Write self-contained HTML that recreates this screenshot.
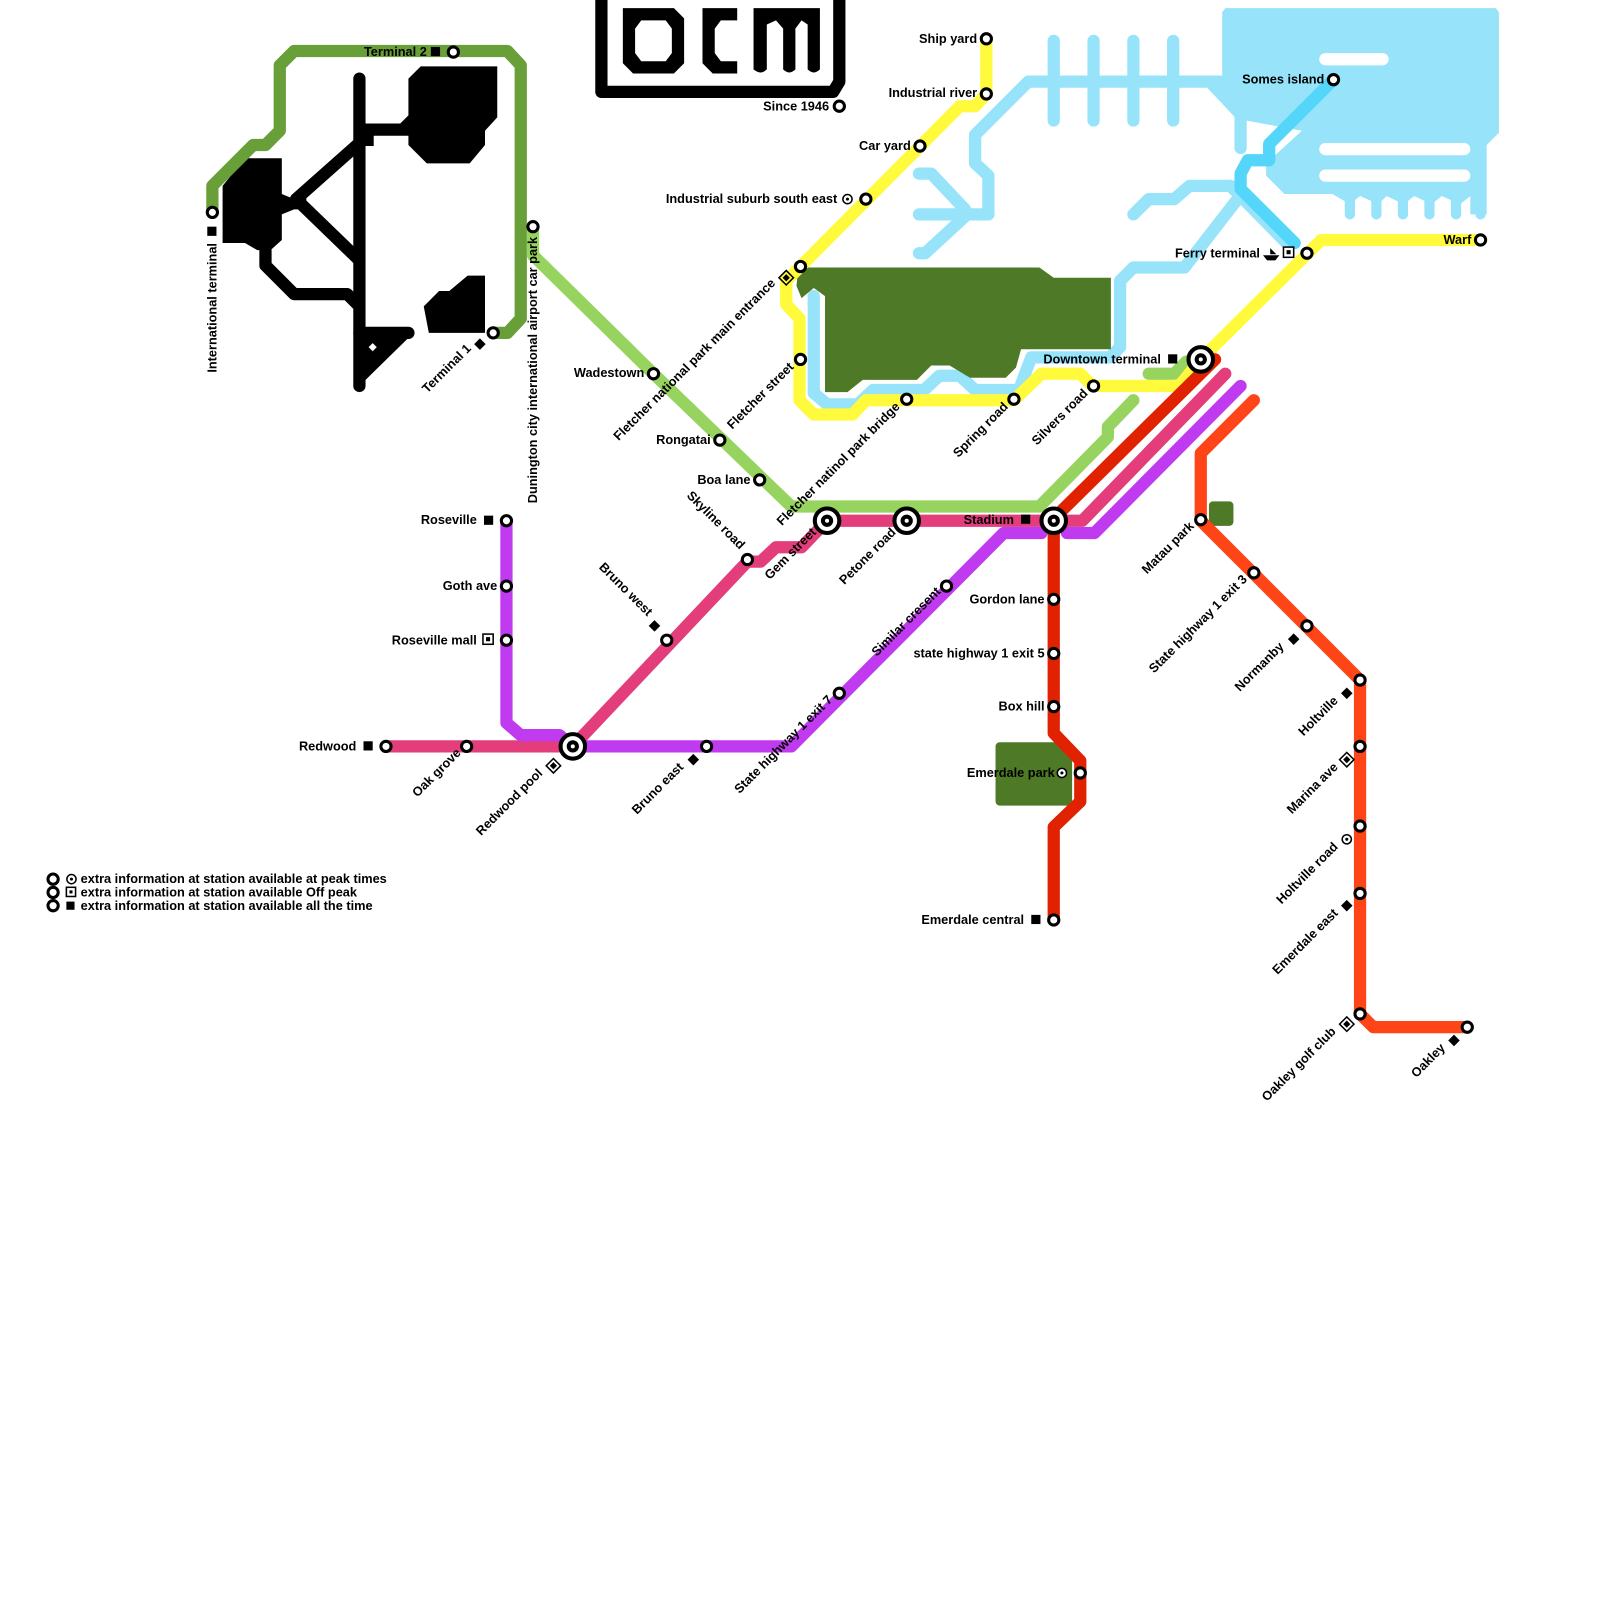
<!DOCTYPE html>
<html><head><meta charset="utf-8"><style>
html,body{margin:0;padding:0;background:#fff}
svg{display:block}
text{font-family:"Liberation Sans",sans-serif;font-weight:bold;font-size:12.5px;fill:#000}
</style></head><body>
<svg width="1600" height="1600" viewBox="0 0 1567 1567" xmlns="http://www.w3.org/2000/svg">
<g fill="none" stroke-linecap="round" stroke-linejoin="round">
<polygon points="1200,8 1465,8 1468,12 1468,130 1456,142 1456,210 1440,210 1440,192 1430,200 1412,192 1402,200 1385,192 1375,200 1358,192 1350,200 1332,192 1322,200 1305,190 1258,190 1240,172 1240,160 1275,128 1220,118 1197,100 1197,12" fill="#96e3fa"/>
<g stroke="#96e3fa" stroke-width="10">
<path d="M1322,190 V210 M1348,190 V210 M1374,190 V210 M1400,190 V210 M1426,190 V210 M1450,190 V210"/>
</g>
<g stroke="#fff" stroke-width="12">
<path d="M1298,58 H1354"/><path d="M1298,146 H1434"/><path d="M1298,172 H1434"/>
</g>
<g stroke="#96e3fa" stroke-width="12">
<path d="M1032,40 V118 M1071,40 V118 M1110,40 V118 M1149,40 V118"/>
<path d="M1200,80 H1007 L955,132 V160 L968,172 V210 H900 M1110,210 L1125,195 H1150 L1165,182 H1205"/>
<path d="M900,170 H912 L945,205 M900,248 H906 L945,212"/>
<path d="M1185,80 L1215,112 V145"/>
<path d="M1205,182 L1262,240 M1212,195 L1160,262 H1110 L1097,275 V340 L1087,350 H1010 L998,382 H955 L940,368 H920 L905,382 H855 L840,396 H810 L797,385 V290"/>
</g>
<path d="M1306,78 L1243,141 V157 H1222 L1215,170 V185 L1268,238" stroke="#53d6f9" stroke-width="12"/>
</g>
<polygon points="782,262 1018,262 1032,272 1088,272 1088,342 1000,342 995,360 985,370 950,370 930,358 912,358 898,372 845,372 830,384 808,384 808,290 797,282 785,292 780,280" fill="#4e7a27"/>
<rect x="975" y="727" width="75" height="62" rx="4" fill="#4e7a27"/>
<rect x="1184" y="491" width="24" height="24" rx="4" fill="#4e7a27"/>
<g fill="#000">
<path d="M400,77 L412,65 H487 V115 L475,128 V142 L460,160 H418 L400,142 V133 H366 V143 H352 V121 H392 L400,113 Z"/>
<polygon points="218,182 240,155 276,155 276,190 288,195 300,190 300,205 288,205 276,210 276,235 265,245 252,245 240,238 218,238"/>
<polygon points="415,300 430,285 440,285 458,270 475,270 475,326 420,326"/>
<polygon points="352,326 405,326 352,378"/>
</g>
<g fill="none" stroke="#000" stroke-width="12" stroke-linecap="round" stroke-linejoin="round">
<path d="M352,77 V378"/>
<path d="M352,140 L290,195 M290,195 L352,255"/>
<path d="M260,245 V260 L288,288 H340 L352,300"/>
<path d="M352,326 H400"/>
</g>
<polygon points="365,336 369,340 365,344 361,340" fill="#fff"/>
<g fill="none" stroke="#000" stroke-width="12" stroke-linejoin="round">
<path d="M589,-10 V90 H816 L822,80 V-10"/>
</g>
<g fill="#000">
<path d="M610,8 H660 L670,18 V62 L660,72 H620 L610,62 Z M628,20 L622,28 V52 L628,60 H652 L658,52 V28 L652,20 Z" fill-rule="evenodd"/>
<path d="M688,8 H722 V20 H706 L700,28 V52 L706,60 H722 V72 H698 L688,62 Z"/>
<path d="M738,8 H803 V68 Q797,74 791,68 V24 L785,20 L779,28 V68 Q773,74 767,68 V28 L760,20 L751,24 V68 Q745,74 738,68 Z"/>
</g>
<g fill="none" stroke-linecap="round" stroke-linejoin="round" stroke-width="12">
<path d="M208,208 V182 L248,142 H260 L274,128 V64 L288,50 H497 L510,64 V312 L497,326 H483" stroke="#689f38"/>
<path d="M522,222 V250 L640,366 L775,496 H1018 L1085,428 V418 L1110,392" stroke="#96d35f"/>
<path d="M1125,366 H1150 L1162,354" stroke="#96d35f"/>
<path d="M966,38 V92 L955,104 H940 L785,260 L770,275 V298 L783,312 V392 L797,406 H835 L848,392 H993 L1020,366 H1058 L1070,378 H1155 L1176,352 L1294,235 H1450" stroke="#fffa3c"/>
<path d="M378,731 H561 L732,550 H745 L760,536 H785 L810,510 H1060 L1200,366" stroke="#e33d7b"/>
<path d="M496,510 V708 L510,720 H548 L561,731 H775 L983,522 H1020 M1045,522 H1072 L1215,378" stroke="#c03bef"/>
<path d="M1032,510 V718 L1058,745 V785 L1032,810 V900 M1040,500 L1190,352" stroke="#e02200"/>
<path d="M1228,392 L1176,444 V510 L1332,666 V993 L1345,1006 H1437" stroke="#ff4518"/>
</g>
<g fill="#fff" stroke="#000" stroke-width="3">
<circle cx="208" cy="208" r="5"/><circle cx="444" cy="51" r="5"/><circle cx="483" cy="326" r="5"/>
<circle cx="522" cy="222" r="5"/><circle cx="640" cy="366" r="5"/><circle cx="705" cy="431" r="5"/>
<circle cx="744" cy="470" r="5"/><circle cx="822" cy="104" r="5"/><circle cx="966" cy="38" r="5"/>
<circle cx="966" cy="92" r="5"/><circle cx="901" cy="143" r="5"/><circle cx="848" cy="195" r="5"/>
<circle cx="784" cy="261" r="5"/><circle cx="784" cy="352" r="5"/><circle cx="888" cy="391" r="5"/>
<circle cx="993" cy="391" r="5"/><circle cx="1071" cy="378" r="5"/><circle cx="1306" cy="78" r="5"/>
<circle cx="1280" cy="248" r="5"/><circle cx="1450" cy="235" r="5"/><circle cx="496" cy="510" r="5"/>
<circle cx="496" cy="574" r="5"/><circle cx="496" cy="627" r="5"/><circle cx="378" cy="731" r="5"/>
<circle cx="457" cy="731" r="5"/><circle cx="692" cy="731" r="5"/><circle cx="653" cy="627" r="5"/>
<circle cx="732" cy="548" r="5"/><circle cx="927" cy="574" r="5"/><circle cx="822" cy="679" r="5"/>
<circle cx="1032" cy="587" r="5"/><circle cx="1032" cy="640" r="5"/><circle cx="1032" cy="692" r="5"/>
<circle cx="1058" cy="757" r="5"/><circle cx="1032" cy="901" r="5"/><circle cx="1176" cy="509" r="5"/>
<circle cx="1228" cy="561" r="5"/><circle cx="1280" cy="613" r="5"/><circle cx="1332" cy="666" r="5"/>
<circle cx="1332" cy="731" r="5"/><circle cx="1332" cy="809" r="5"/><circle cx="1332" cy="875" r="5"/>
<circle cx="1332" cy="993" r="5"/><circle cx="1437" cy="1006" r="5"/>
<circle cx="52" cy="861" r="5"/><circle cx="52" cy="874" r="5"/><circle cx="52" cy="887" r="5"/>
</g>
<g fill="#fff" stroke="#000" stroke-width="4">
<circle cx="810" cy="510" r="12"/><circle cx="888" cy="510" r="12"/><circle cx="1032" cy="510" r="12"/>
<circle cx="1176" cy="352" r="12"/><circle cx="561" cy="731" r="12"/>
<circle cx="810" cy="510" r="4"/><circle cx="888" cy="510" r="4"/><circle cx="1032" cy="510" r="4"/>
<circle cx="1176" cy="352" r="4"/><circle cx="561" cy="731" r="4"/>
</g>
<g fill="#000">
<rect x="422" y="46" width="9" height="9"/><rect x="203" y="222" width="9" height="9"/>
<rect x="474" y="505" width="9" height="9"/><rect x="356" y="726" width="9" height="9"/>
<rect x="1000" y="504" width="9" height="9"/><rect x="1144" y="347" width="9" height="9"/>
<rect x="1010" y="896" width="9" height="9"/><rect x="65" y="883" width="8" height="8"/>
<rect x="466" y="333" width="8" height="8" transform="rotate(45 470 337)"/>
<rect x="637" y="609" width="8" height="8" transform="rotate(45 641 613)"/>
<rect x="675" y="740" width="8" height="8" transform="rotate(45 679 744)"/>
<rect x="1263" y="622" width="8" height="8" transform="rotate(45 1267 626)"/>
<rect x="1315" y="675" width="8" height="8" transform="rotate(45 1319 679)"/>
<rect x="1315" y="883" width="8" height="8" transform="rotate(45 1319 887)"/>
<rect x="1420" y="1015" width="8" height="8" transform="rotate(45 1424 1019)"/>
</g>
<g fill="#fff" stroke="#000" stroke-width="1.5">
<rect x="473" y="621" width="10" height="10"/><rect x="1257" y="242" width="10" height="10"/>
<rect x="65" y="869" width="9" height="9"/>
<rect x="537" y="745" width="10" height="10" transform="rotate(45 542 750)"/>
<rect x="765" y="267" width="10" height="10" transform="rotate(45 770 272)" fill="#fffa3c"/>
<rect x="1314" y="739" width="10" height="10" transform="rotate(45 1319 744)"/>
<rect x="1314" y="998" width="10" height="10" transform="rotate(45 1319 1003)"/>
<circle cx="830" cy="195" r="4.5"/><circle cx="1040" cy="757" r="4.5"/><circle cx="1319" cy="822" r="4.5"/><circle cx="70" cy="861" r="4.5"/>
</g>
<g fill="#000"><rect x="476" y="624" width="4" height="4"/><rect x="1260" y="245" width="4" height="4"/><rect x="68" y="872" width="3" height="3"/>
<rect x="539.5" y="747.5" width="5" height="5" transform="rotate(45 542 750)"/>
<rect x="767.5" y="269.5" width="5" height="5" transform="rotate(45 770 272)"/>
<rect x="1316.5" y="741.5" width="5" height="5" transform="rotate(45 1319 744)"/>
<rect x="1316.5" y="1000.5" width="5" height="5" transform="rotate(45 1319 1003)"/>
<circle cx="830" cy="195" r="1.5"/><circle cx="1040" cy="757" r="1.5"/><circle cx="1319" cy="822" r="1.5"/><circle cx="70" cy="861" r="1.5"/>
<path d="M1237,250 H1253 L1249,255 H1241 Z M1244,243 L1250,249 H1244 Z"/></g>
<text x="418" y="55" text-anchor="end">Terminal 2</text>
<text x="812" y="108" text-anchor="end">Since 1946</text>
<text x="957" y="42" text-anchor="end">Ship yard</text>
<text x="957" y="95" text-anchor="end">Industrial river</text>
<text x="892" y="147" text-anchor="end">Car yard</text>
<text x="820" y="199" text-anchor="end">Industrial suburb south east</text>
<text x="1297" y="82" text-anchor="end">Somes island</text>
<text x="1234" y="252" text-anchor="end">Ferry terminal</text>
<text x="1441" y="239" text-anchor="end">Warf</text>
<text x="1137" y="356" text-anchor="end">Downtown terminal</text>
<text x="631" y="369" text-anchor="end">Wadestown</text>
<text x="696" y="435" text-anchor="end">Rongatai</text>
<text x="735" y="474" text-anchor="end">Boa lane</text>
<text x="993" y="513" text-anchor="end">Stadium</text>
<text x="467" y="513" text-anchor="end">Roseville</text>
<text x="487" y="578" text-anchor="end">Goth ave</text>
<text x="467" y="631" text-anchor="end">Roseville mall</text>
<text x="349" y="735" text-anchor="end">Redwood</text>
<text x="1023" y="591" text-anchor="end">Gordon lane</text>
<text x="1023" y="644" text-anchor="end">state highway 1 exit 5</text>
<text x="1023" y="696" text-anchor="end">Box hill</text>
<text x="1033" y="761" text-anchor="end">Emerdale park</text>
<text x="1003" y="905" text-anchor="end">Emerdale central</text>
<text x="79" y="865">extra information at station available at peak times</text>
<text x="79" y="878">extra information at station available Off peak</text>
<text x="79" y="891">extra information at station available all the time</text>
<text transform="translate(212,238) rotate(-90)" text-anchor="end">International terminal</text>
<text transform="translate(526,232) rotate(-90)" text-anchor="end">Dunington city international airport car park</text>
<text transform="translate(462,342) rotate(-45)" text-anchor="end">Terminal 1</text>
<text transform="translate(760,278) rotate(-45)" text-anchor="end">Fletcher national park main entrance</text>
<text transform="translate(778,360) rotate(-45)" text-anchor="end">Fletcher street</text>
<text transform="translate(882,399) rotate(-45)" text-anchor="end">Fletcher natinol park bridge</text>
<text transform="translate(988,399) rotate(-45)" text-anchor="end">Spring road</text>
<text transform="translate(1066,386) rotate(-45)" text-anchor="end">Silvers road</text>
<text transform="translate(672,486) rotate(45)">Skyline road</text>
<text transform="translate(586,556) rotate(45)">Bruno west</text>
<text transform="translate(800,522) rotate(-45)" text-anchor="end">Gem street</text>
<text transform="translate(878,522) rotate(-45)" text-anchor="end">Petone road</text>
<text transform="translate(922,580) rotate(-45)" text-anchor="end">Similar cresent</text>
<text transform="translate(816,686) rotate(-45)" text-anchor="end">State highway 1 exit 7</text>
<text transform="translate(452,738) rotate(-45)" text-anchor="end">Oak grove</text>
<text transform="translate(532,758) rotate(-45)" text-anchor="end">Redwood pool</text>
<text transform="translate(670,752) rotate(-45)" text-anchor="end">Bruno east</text>
<text transform="translate(1170,516) rotate(-45)" text-anchor="end">Matau park</text>
<text transform="translate(1222,568) rotate(-45)" text-anchor="end">State highway 1 exit 3</text>
<text transform="translate(1258,634) rotate(-45)" text-anchor="end">Normanby</text>
<text transform="translate(1311,687) rotate(-45)" text-anchor="end">Holtville</text>
<text transform="translate(1311,752) rotate(-45)" text-anchor="end">Marina ave</text>
<text transform="translate(1311,830) rotate(-45)" text-anchor="end">Holtville road</text>
<text transform="translate(1311,895) rotate(-45)" text-anchor="end">Emerdale east</text>
<text transform="translate(1309,1011) rotate(-45)" text-anchor="end">Oakley golf club</text>
<text transform="translate(1416,1027) rotate(-45)" text-anchor="end">Oakley</text>
</svg>
</body></html>
